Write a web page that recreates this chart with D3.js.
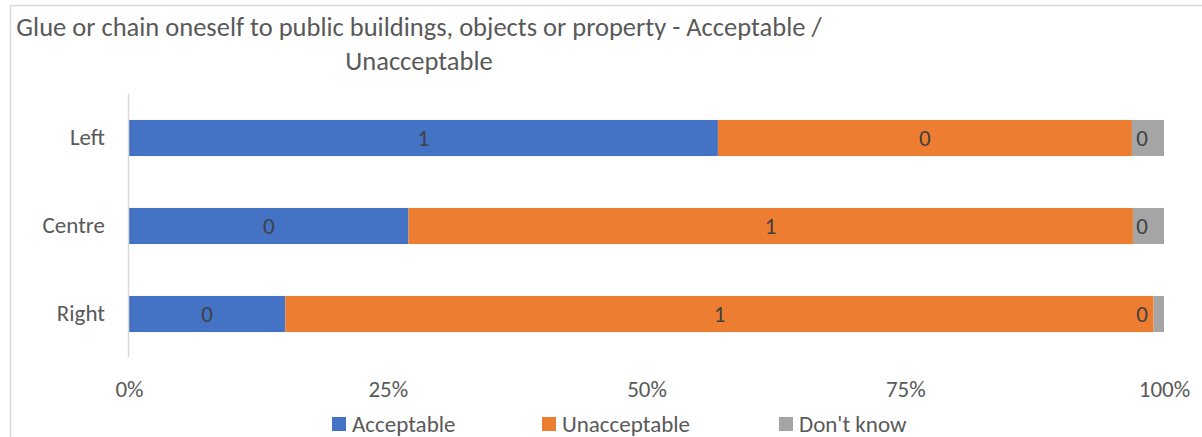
<!DOCTYPE html>
<html>
<head>
<meta charset="utf-8">
<script src="https://cdn.jsdelivr.net/npm/d3@7"></script>
<style>
  html, body { margin: 0; padding: 0; background: #fff; overflow: hidden; }
  svg { display: block; font-family: "Carlito", "Calibri", "Liberation Sans", sans-serif; }
</style>
</head>
<body>
<svg id="chart" width="1202" height="437"></svg>
<script>
// Shares of respondents by political leaning (fractions of 1)
const categories = ["Left", "Centre", "Right"];
const seriesNames = ["Acceptable", "Unacceptable", "Don't know"];
const acceptable   = [0.569, 0.270, 0.151];
const unacceptable = [0.400, 0.700, 0.839];
const dontKnow     = [0.031, 0.030, 0.010];
const xTicks = [0, 0.25, 0.5, 0.75, 1];
const colors = ["#4472c4", "#ed7d31", "#a5a5a5"];

const rows = categories.map((c, i) => ({
  category: c,
  "Acceptable": acceptable[i],
  "Unacceptable": unacceptable[i],
  "Don't know": dontKnow[i]
}));

const svg = d3.select("#chart");
const font = "Carlito, Calibri, 'Liberation Sans', sans-serif";

// Outer chart frame
svg.append("rect")
  .attr("x", 10.5).attr("y", 5.5)
  .attr("width", 1300).attr("height", 600)
  .attr("fill", "none").attr("stroke", "#d9d9d9").attr("stroke-width", 1.5);

const x = d3.scaleLinear().domain([0, 1]).range([129, 1164]);
const y = d3.scaleBand().domain(categories).range([94, 358]).paddingInner(0.59).paddingOuter(0.295);

const layers = d3.stack().keys(seriesNames)(rows);

// Title (wrapped over two centred lines)
const title = svg.append("text")
  .attr("text-anchor", "middle")
  .attr("fill", "#595959")
  .style("font-size", "26.5px");
title.append("tspan").attr("x", 419).attr("y", 36)
  .text("Glue or chain oneself to public buildings, objects or property - Acceptable /");
title.append("tspan").attr("x", 419).attr("y", 70)
  .text("Unacceptable");

// Stacked bars with value labels (labels kept inside the plot's right edge)
const labelMaxX = x.range()[1] - 22;
const g = svg.append("g");
layers.forEach((layer, si) => {
  g.selectAll(null)
    .data(layer)
    .join("rect")
    .attr("x", d => x(d[0]))
    .attr("y", d => y(d.data.category))
    .attr("width", d => x(d[1]) - x(d[0]))
    .attr("height", y.bandwidth())
    .attr("fill", colors[si]);

  g.selectAll(null)
    .data(layer)
    .join("text")
    .attr("x", d => Math.min((x(d[0]) + x(d[1])) / 2, labelMaxX))
    .attr("y", d => y(d.data.category) + y.bandwidth() / 2)
    .attr("dy", "0.35em")
    .attr("text-anchor", "middle")
    .attr("fill", "#404040")
    .style("font-size", "23px")
    .text(d => d3.format(".0f")(d[1] - d[0]));
});

// Category axis
const yAxis = svg.append("g")
  .attr("transform", "translate(128.5,0)")
  .call(d3.axisLeft(y).tickSize(0).tickPadding(23.5));
yAxis.select(".domain").attr("stroke", "#d9d9d9").attr("stroke-width", 1.5)
  .attr("d", "M0,94V357");
yAxis.selectAll("text")
  .attr("fill", "#595959")
  .style("font-size", "23px")
  .style("font-family", font);

// Value axis labels
const xAxis = svg.append("g")
  .attr("transform", "translate(0,378)")
  .call(d3.axisBottom(x).tickValues(xTicks).tickFormat(d3.format(".0%")).tickSize(0).tickPadding(3));
xAxis.select(".domain").remove();
xAxis.selectAll("text")
  .attr("fill", "#595959")
  .style("font-size", "23px")
  .style("font-family", font);

// Legend
const legendX = [332, 542, 779];
const legend = svg.append("g");
seriesNames.forEach((name, i) => {
  legend.append("rect")
    .attr("x", legendX[i]).attr("y", 417)
    .attr("width", 14).attr("height", 14)
    .attr("fill", colors[i]);
  legend.append("text")
    .attr("x", legendX[i] + 20).attr("y", 431.5)
    .attr("fill", "#595959")
    .style("font-size", "23px")
    .text(name);
});
</script>
</body>
</html>
